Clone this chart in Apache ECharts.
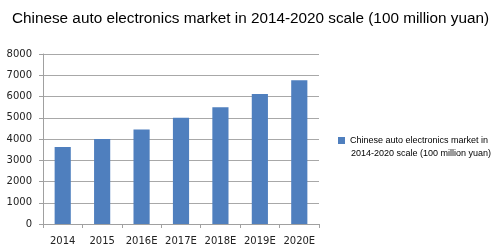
<!DOCTYPE html>
<html><head><meta charset="utf-8">
<script src="https://cdn.jsdelivr.net/npm/echarts@6/dist/echarts.min.js"></script>
<style>html,body{margin:0;padding:0;background:#fff}#c{width:503px;height:249px}</style>
</head><body><div id="c"></div>
<script>
const titleText = "Chinese auto electronics market in 2014-2020 scale (100 million yuan)";
const seriesName = "Chinese auto electronics market in 2014-2020 scale (100 million yuan)";
const legendLine1 = "Chinese auto electronics market in";
const legendLine2 = "2014-2020 scale (100 million yuan)";
const categories = ["2014","2015","2016E","2017E","2018E","2019E","2020E"];
const values = [3620, 4000, 4450, 5000, 5500, 6120, 6770];
const yTicks = [0,1000,2000,3000,4000,5000,6000,7000,8000];

const chart = echarts.init(document.getElementById('c'), null, {renderer:'canvas'});
chart.setOption({
  animation:false,
  backgroundColor:'#fff',
  title:{text:titleText,left:7,top:6,textStyle:{fontFamily:'Liberation Sans',fontSize:15.3,fontWeight:'normal',color:'#000'}},
  grid:{left:43,right:184,top:54,bottom:25},
  legend:{
    left:333,top:131,orient:'vertical',icon:'rect',itemWidth:7,itemHeight:7,itemGap:4,
    formatter:function(){return legendLine1;},
    textStyle:{fontFamily:'Liberation Sans',fontSize:9,color:'#000'}
  },
  graphic:[{type:'text',left:351,top:149,style:{text:legendLine2,fontFamily:'Liberation Sans',fontSize:9,fill:'#000'}}],
  xAxis:{type:'category',data:categories,
    axisLine:{lineStyle:{color:'#a0a0a0'}},
    axisTick:{show:true,alignWithLabel:false,length:4,lineStyle:{color:'#a0a0a0'}},
    axisLabel:{interval:0,fontFamily:'DejaVu Sans',fontSize:10,color:'#222',margin:12}},
  yAxis:{type:'value',min:yTicks[0],max:yTicks[yTicks.length-1],interval:1000,
    axisLine:{show:true,lineStyle:{color:'#a0a0a0'}},
    axisTick:{show:true,length:4,lineStyle:{color:'#a0a0a0'}},
    splitLine:{lineStyle:{color:'#a8a8a8'}},
    axisLabel:{formatter:function(v){return String(v);},fontFamily:'DejaVu Sans',fontSize:10,color:'#222',margin:11}},
  series:[{type:'bar',name:seriesName,data:values,barWidth:'41%',itemStyle:{color:'#4f7fbe'}}]
});
</script></body></html>
